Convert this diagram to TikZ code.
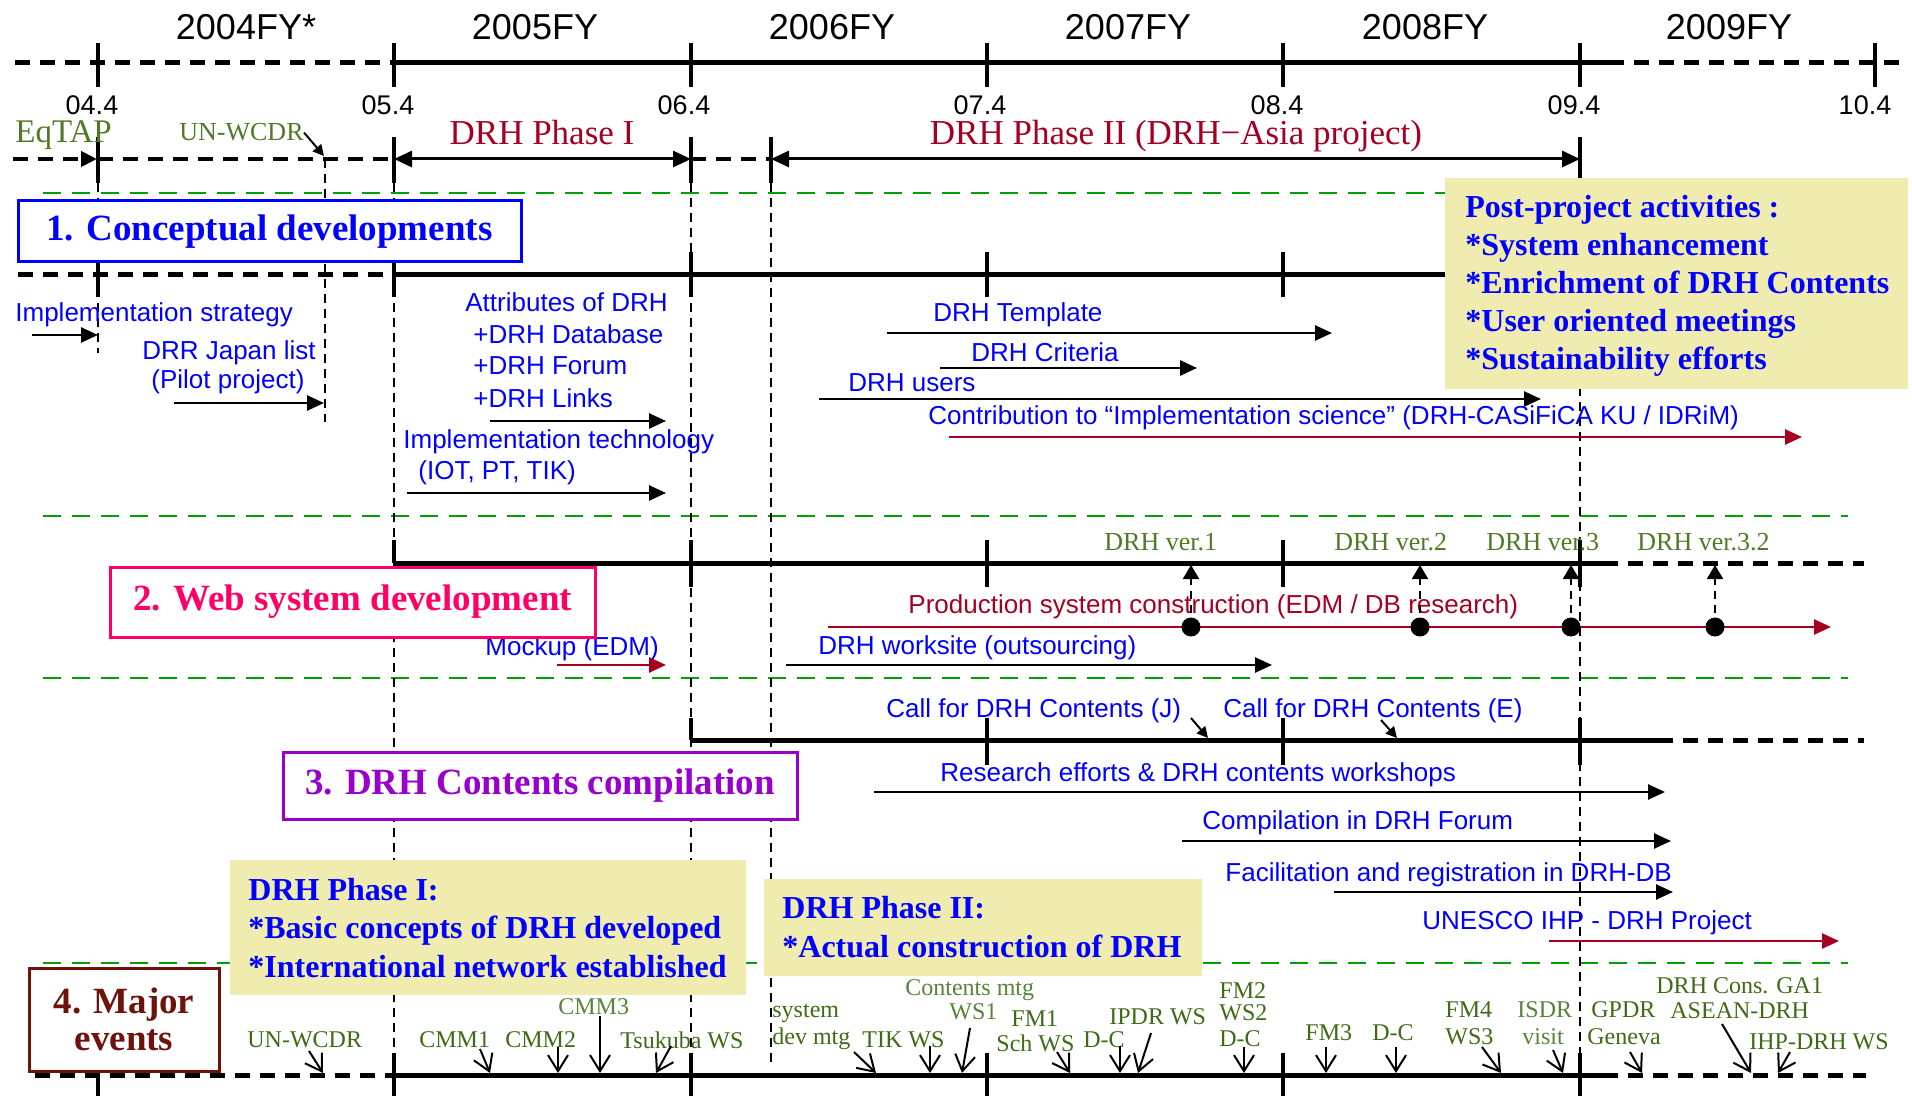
\documentclass[tikz,border=0pt]{standalone}
\usepackage{fontspec}
\setmainfont{Liberation Serif}
\setsansfont{Liberation Sans}
\usetikzlibrary{arrows.meta}
\definecolor{tblue}{RGB}{0,0,255}
\definecolor{dred}{RGB}{165,0,35}
\definecolor{sepgreen}{RGB}{0,160,0}
\definecolor{egreen}{RGB}{62,108,22}
\definecolor{lgreen}{RGB}{88,132,58}
\definecolor{vgreen}{RGB}{80,122,36}
\definecolor{boxpink}{RGB}{255,0,102}
\definecolor{boxpurple}{RGB}{153,0,204}
\definecolor{boxmaroon}{RGB}{110,18,12}
\definecolor{ybox}{RGB}{240,235,175}
\newcommand\myfs[2]{\fontsize{#1}{#2}\selectfont}
\begin{document}
\begin{tikzpicture}[x=0.5pt,y=-0.5pt,
  tl/.style={line width=2.5pt},
  tld/.style={line width=2.5pt,dash pattern=on 7.5pt off 5pt},
  tk/.style={line width=2pt},
  vd/.style={line width=0.8pt,dash pattern=on 4.5pt off 3pt},
  gs/.style={draw=sepgreen,line width=1.4pt,dash pattern=on 9pt off 5.5pt},
  ar/.style={line width=1.3pt,-{Triangle[length=8.5pt,width=7.5pt]}},
  rar/.style={ar,color=dred},
  par/.style={line width=1.5pt,{Triangle[length=9pt,width=8pt]}-{Triangle[length=9pt,width=8pt]}},
  uar/.style={line width=1pt,dash pattern=on 4pt off 3pt,-{Triangle[length=7pt,width=8pt]}},
  sar/.style={line width=1pt,-{Triangle[length=5.5pt,width=5.5pt]}},
  ev/.style={line width=1pt,-{Straight Barb[length=8pt,width=10pt]}},
  yr/.style={font=\sffamily\myfs{18pt}{20pt},inner sep=0pt},
  dt/.style={font=\sffamily\myfs{13.5pt}{15pt},inner sep=0pt},
  bt/.style={font=\sffamily\myfs{13pt}{15pt},text=tblue,inner sep=0pt,anchor=west},
  gt/.style={font=\myfs{12pt}{14pt},text=egreen,inner sep=0pt,anchor=west},
  lgt/.style={gt,text=lgreen},
  vt/.style={font=\myfs{13pt}{15pt},text=vgreen,inner sep=0pt,anchor=west},
  ttl/.style={font=\bfseries\myfs{18.5pt}{18.5pt},line width=1.5pt,fill=white,align=center,inner sep=0pt},
  yt/.style={font=\bfseries\myfs{16pt}{19pt},text=tblue,inner sep=0pt,anchor=base west},
  dotm/.style={circle,fill=black,inner sep=0pt,minimum size=9.5pt}]
\useasboundingbox (0,0) rectangle (1912,1096);
\fill[white] (0,0) rectangle (1912,1096);

% green separators
\draw[gs] (43,193) -- (1445,193);
\draw[gs] (43,516) -- (1848,516);
\draw[gs] (43,678) -- (1848,678);
\draw[gs] (43,963) -- (1848,963);

% vertical dashed guides
\draw[vd] (98,183) -- (98,353);
\draw[vd] (325,159) -- (325,422);
\draw[vd] (394,183) -- (394,1053);
\draw[vd] (691,183) -- (691,1053);
\draw[vd] (771,183) -- (771,1067);
\draw[vd] (1580,177) -- (1580,1075);

% year labels
\node[yr] (y04) at (246,27) {2004FY*};
\node[yr] (y05) at (535,27) {2005FY};
\node[yr] (y06) at (832,27) {2006FY};
\node[yr] (y07) at (1128,27) {2007FY};
\node[yr] (y08) at (1425,27) {2008FY};
\node[yr] (y09) at (1729,27) {2009FY};

% top timeline
\draw[tld] (15,63) -- (394,63);
\draw[tl] (394,63) -- (1609,63);
\draw[tld] (1609,63) -- (1905,63);
\foreach \x in {98,394,691,987,1283,1580,1875} \draw[tk] (\x,43) -- (\x,87);

% date labels
\node[dt] (d04) at (92,105) {04.4};
\node[dt] (d05) at (388,105) {05.4};
\node[dt] (d06) at (684,105) {06.4};
\node[dt] (d07) at (980,105) {07.4};
\node[dt] (d08) at (1277,105) {08.4};
\node[dt] (d09) at (1574,105) {09.4};
\node[dt] (d10) at (1865,105) {10.4};

% phase row
\draw[line width=2pt,dash pattern=on 7.5pt off 5pt,-{Triangle[length=8pt,width=7.5pt]}] (13,159) -- (97,159);
\draw[line width=2pt,dash pattern=on 7.5pt off 5pt] (98,159) -- (394,159);
\draw[line width=2pt,dash pattern=on 7.5pt off 5pt] (691,159) -- (771,159);
\foreach \x in {98,394,691,771} \draw[tk] (\x,137) -- (\x,183);
\draw[tk] (1580,137) -- (1580,178);
\draw[par] (394,159) -- (691,159);
\draw[par] (771,159) -- (1580,159);
\node[font=\myfs{16.5pt}{18pt},text=vgreen,inner sep=0pt,anchor=base west] (eqtap) at (15,143) {EqTAP};
\node[font=\myfs{13pt}{15pt},text=vgreen,inner sep=0pt,anchor=base west] (unw) at (179,141) {UN-WCDR};
\coordinate (unwend) at (324,156);
\draw[sar] (unw.east) -- (unwend);
\node[font=\myfs{17.5pt}{19pt},text=dred,inner sep=0pt,anchor=base] (ph1) at (542,145) {DRH Phase I};
\node[font=\myfs{17.5pt}{19pt},text=dred,inner sep=0pt,anchor=base] (ph2) at (1176,145) {DRH Phase II (DRH−Asia project)};

% section 1 line
\draw[tld] (18,275) -- (394,275);
\draw[tl] (394,275) -- (1450,275);
\foreach \x in {98,394,691,987,1283} \draw[tk] (\x,252) -- (\x,297);

% section 2 line
\draw[tl] (394,563) -- (1603,563);
\draw[tld] (1603,563) -- (1864,563);
\draw[tk] (394,540) -- (394,563);
\foreach \x in {691,987,1283,1580} \draw[tk] (\x,540) -- (\x,587);

% section 3 line
\draw[tl] (691,740) -- (1658,740);
\draw[tld] (1658,740) -- (1864,740);
\draw[tk] (691,718) -- (691,740);
\foreach \x in {987,1283,1580} \draw[tk] (\x,718) -- (\x,765);

% bottom line
\draw[tld] (35,1075) -- (394,1075);
\draw[tl] (394,1075) -- (1603,1075);
\draw[tld] (1603,1075) -- (1866,1075);
\draw[tk] (98,1075) -- (98,1096);
\foreach \x in {394,691,987,1283,1580} \draw[tk] (\x,1053) -- (\x,1096);

% ---- section 1 contents
\node[bt] (is) at (15,315) {Implementation strategy};
\draw[ar] (32,335) -- (98,335);
\node[bt,anchor=center] (drrj) at (229,353) {DRR Japan list};
\node[bt,anchor=center] (pilot) at (228,382) {(Pilot project)};
\draw[ar] (174,403) -- (324,403);
\node[bt] (attr) at (465,302) {Attributes of DRH};
\node[bt] (dbase) at (473,334) {+DRH Database};
\node[bt] (forum) at (473,366) {+DRH Forum};
\node[bt] (links) at (473,398) {+DRH Links};
\draw[ar] (490,421) -- (666,421);
\node[bt] (itech) at (403,442) {Implementation technology};
\node[bt] (iot) at (418,473) {(IOT, PT, TIK)};
\draw[ar] (407,493) -- (666,493);
\node[bt] (tmpl) at (933,315) {DRH Template};
\draw[ar] (887,333) -- (1332,333);
\node[bt] (crit) at (971,352) {DRH Criteria};
\draw[ar] (940,368) -- (1197,368);
\node[bt] (users) at (848,383) {DRH users};
\draw[ar] (819,399) -- (1541,399);
\node[bt] (contrib) at (928,418) {Contribution to “Implementation science” (DRH-CASiFiCA KU / IDRiM)};
\draw[rar] (949,437) -- (1802,437);

% ---- section 2 contents
\node[vt] (v1) at (1104,542) {DRH ver.1};
\node[vt] (v2) at (1334,542) {DRH ver.2};
\node[vt] (v3) at (1486,542) {DRH ver.3};
\node[vt] (v32) at (1637,542) {DRH ver.3.2};
\node[bt,text=dred] (prod) at (908,607) {Production system construction (EDM / DB research)};
\draw[rar] (828,627) -- (1831,627);
\foreach \x/\n in {1191/a,1420/b,1571/c,1715/d} {
  \node[dotm] (dot\n) at (\x,627) {};
  \coordinate (up\n) at (\x,565);
  \draw[uar] (dot\n.center) -- (up\n);
}
\node[bt] (mock) at (485,649) {Mockup (EDM)};
\draw[rar] (557,665) -- (666,665);
\node[bt] (work) at (818,648) {DRH worksite (outsourcing)};
\draw[ar] (786,665) -- (1272,665);

% ---- section 3 contents
\node[bt] (callj) at (886,711) {Call for DRH Contents (J)};
\draw[sar] (1191,718) -- (1208,738);
\node[bt] (calle) at (1223,711) {Call for DRH Contents (E)};
\draw[sar] (1381,720) -- (1397,738);
\node[bt] (resw) at (940,775) {Research efforts \& DRH contents workshops};
\draw[ar] (874,792) -- (1665,792);
\node[bt] (comp) at (1202,823) {Compilation in DRH Forum};
\draw[ar] (1182,841) -- (1671,841);
\node[bt] (facil) at (1225,875) {Facilitation and registration in DRH-DB};
\draw[ar] (1334,892) -- (1673,892);
\node[bt] (unesco) at (1422,923) {UNESCO IHP - DRH Project};
\draw[rar] (1549,941) -- (1839,941);

% ---- section 4 events
\node[gt] (e1) at (247,1040) {UN-WCDR};
\draw[ev] (309,1051) -- (323,1073);
\node[gt] (e2) at (419,1040) {CMM1};
\draw[ev] (480,1049) -- (490,1073);
\node[gt] (e3) at (505,1040) {CMM2};
\draw[ev] (558,1047) -- (558,1073);
\node[lgt] (e4) at (558,1007) {CMM3};
\draw[ev] (600,1016) -- (600,1073);
\node[gt] (e5) at (620,1040) {Tsukuba WS};
\draw[ev] (671,1046) -- (656,1073);
\node[gt] (e6a) at (772,1013) {system};
\node[gt] (e6b) at (772,1039) {dev mtg};
\draw[ev] (854,1052) -- (876,1073);
\node[gt] (e7) at (862,1040) {TIK WS};
\draw[ev] (930,1046) -- (930,1073);
\node[lgt] (e8a) at (905,990) {Contents mtg};
\node[lgt] (e8b) at (949,1012) {WS1};
\draw[ev] (970,1028) -- (962,1073);
\node[gt] (e9a) at (1011,1019) {FM1};
\node[gt] (e9b) at (996,1043) {Sch WS};
\draw[ev] (1057,1052) -- (1070,1073);
\node[gt] (e10) at (1083,1040) {D-C};
\draw[ev] (1120,1046) -- (1120,1073);
\node[gt] (e11) at (1109,1017) {IPDR WS};
\draw[ev] (1151,1033) -- (1138,1073);
\node[gt] (e12a) at (1219,991) {FM2};
\node[gt] (e12b) at (1219,1013) {WS2};
\node[gt] (e12c) at (1219,1039) {D-C};
\draw[ev] (1244,1047) -- (1244,1073);
\node[gt] (e13) at (1305,1033) {FM3};
\draw[ev] (1326,1047) -- (1326,1073);
\node[gt] (e14) at (1372,1033) {D-C};
\draw[ev] (1396,1047) -- (1396,1073);
\node[gt] (e15a) at (1445,1010) {FM4};
\node[gt] (e15b) at (1445,1037) {WS3};
\draw[ev] (1482,1047) -- (1501,1073);
\node[lgt] (e16a) at (1517,1010) {ISDR};
\node[lgt] (e16b) at (1522,1037) {visit};
\draw[ev] (1553,1050) -- (1563,1073);
\node[gt] (e17a) at (1591,1010) {GPDR};
\node[gt] (e17b) at (1587,1037) {Geneva};
\draw[ev] (1630,1052) -- (1642,1073);
\node[gt] (e18a) at (1656,986) {DRH Cons. GA1};
\node[gt] (e18b) at (1670,1011) {ASEAN-DRH};
\draw[ev] (1722,1024) -- (1751,1073);
\node[gt] (e19) at (1749,1042) {IHP-DRH WS};
\draw[ev] (1790,1052) -- (1778,1073);

% ---- section title boxes
\node[ttl,draw=tblue,text=tblue,minimum width=251.5pt,minimum height=30.5pt] (b1) at (269.5,231.5) {1. Conceptual developments};
\node[ttl,draw=boxpink,text=boxpink,minimum width=242.5pt,minimum height=35pt] (b2) at (352.5,602) {2. Web system development};
\node[ttl,draw=boxpurple,text=boxpurple,minimum width=257pt,minimum height=33.5pt] (b3) at (540,785.5) {3. DRH Contents compilation};
\node[ttl,draw=boxmaroon,text=boxmaroon,minimum width=95pt,minimum height=51.5pt] (b4) at (124,1019.5) {4. Major\\events};

% ---- yellow note boxes
\fill[ybox] (1445,178) rectangle (1908,389);
\node[yt] (p1) at (1465,218) {Post-project activities :};
\node[yt] (p2) at (1465,256) {*System enhancement};
\node[yt] (p3) at (1465,294) {*Enrichment of DRH Contents};
\node[yt] (p4) at (1465,332) {*User oriented meetings};
\node[yt] (p5) at (1465,370) {*Sustainability efforts};

\fill[ybox] (230,860) rectangle (746,995);
\node[yt] (q1) at (248,900) {DRH Phase I:};
\node[yt] (q2) at (248,938) {*Basic concepts of DRH developed};
\node[yt] (q3) at (248,977) {*International network established};

\fill[ybox] (764,879) rectangle (1202,976);
\node[yt] (r1) at (782,918) {DRH Phase II:};
\node[yt] (r2) at (782,957) {*Actual construction of DRH};
\end{tikzpicture}
\end{document}
